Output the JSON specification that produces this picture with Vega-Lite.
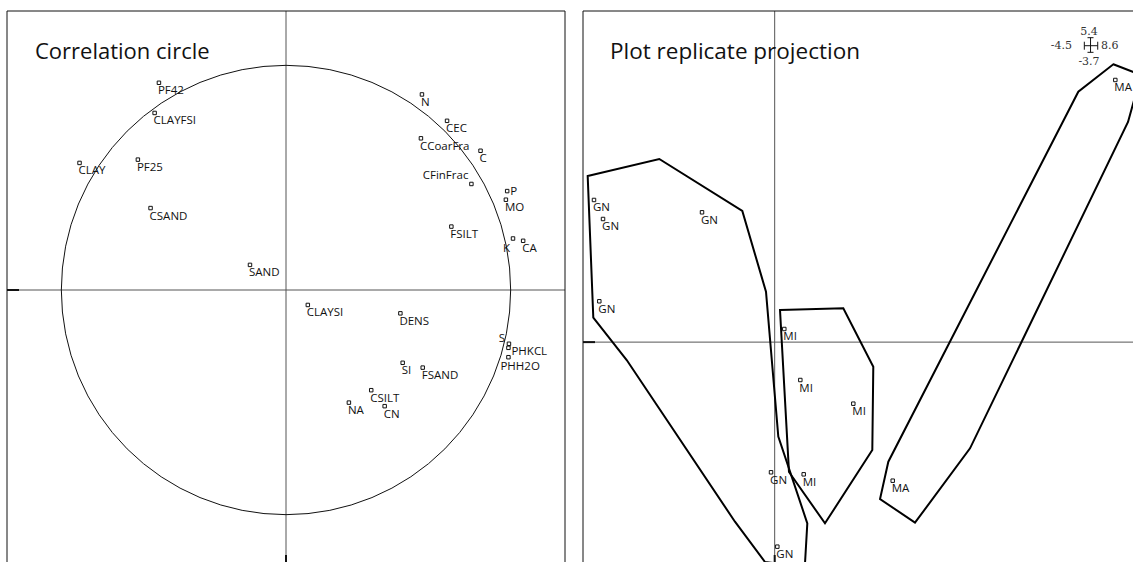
{
  "$schema": "https://vega.github.io/schema/vega-lite/v6.json",
  "padding": {"left": 6, "top": 10, "right": 0, "bottom": 0},
  "spacing": 18,
  "bounds": "flush",
  "config": {"view": {"stroke": null}, "font": "Open Sans"},
  "datasets": {
    "variables": [
      {"var": "PF42", "x": -0.501, "y": 0.817},
      {"var": "CLAYFSI", "x": -0.518, "y": 0.698},
      {"var": "CLAY", "x": -0.814, "y": 0.501},
      {"var": "PF25", "x": -0.584, "y": 0.514},
      {"var": "CSAND", "x": -0.534, "y": 0.323},
      {"var": "SAND", "x": -0.142, "y": 0.099},
      {"var": "N", "x": 0.536, "y": 0.771},
      {"var": "CEC", "x": 0.635, "y": 0.667},
      {"var": "CCoarFra", "x": 0.532, "y": 0.598},
      {"var": "C", "x": 0.767, "y": 0.549},
      {"var": "CFinFrac", "x": 0.731, "y": 0.418},
      {"var": "P", "x": 0.872, "y": 0.39},
      {"var": "MO", "x": 0.867, "y": 0.356},
      {"var": "FSILT", "x": 0.652, "y": 0.25},
      {"var": "K", "x": 0.895, "y": 0.203},
      {"var": "CA", "x": 0.935, "y": 0.194},
      {"var": "CLAYSI", "x": 0.086, "y": -0.059},
      {"var": "DENS", "x": 0.451, "y": -0.092},
      {"var": "S", "x": 0.879, "y": -0.212},
      {"var": "PHKCL", "x": 0.877, "y": -0.228},
      {"var": "PHH2O", "x": 0.877, "y": -0.265},
      {"var": "SI", "x": 0.46, "y": -0.287},
      {"var": "FSAND", "x": 0.539, "y": -0.306},
      {"var": "CSILT", "x": 0.336, "y": -0.395},
      {"var": "NA", "x": 0.248, "y": -0.444},
      {"var": "CN", "x": 0.389, "y": -0.458}
    ],
    "plots": [
      {"plot": "GN", "x": -4.242, "y": 2.318},
      {"plot": "GN", "x": -4.03, "y": 2.008},
      {"plot": "GN", "x": -1.706, "y": 2.117},
      {"plot": "GN", "x": -4.117, "y": 0.666},
      {"plot": "GN", "x": -0.086, "y": -2.123},
      {"plot": "GN", "x": 0.062, "y": -3.336},
      {"plot": "MI", "x": 0.226, "y": 0.214},
      {"plot": "MI", "x": 0.602, "y": -0.618},
      {"plot": "MI", "x": 1.846, "y": -1.004},
      {"plot": "MI", "x": 0.681, "y": -2.156},
      {"plot": "MA", "x": 2.771, "y": -2.26},
      {"plot": "MA", "x": 7.997, "y": 4.275}
    ],
    "hulls": [
      {"plot": "GN", "i": 1, "x": -4.39, "y": 2.709},
      {"plot": "GN", "i": 2, "x": -2.709, "y": 2.986},
      {"plot": "GN", "i": 3, "x": -0.76, "y": 2.138},
      {"plot": "GN", "i": 4, "x": -0.204, "y": 0.822},
      {"plot": "GN", "i": 5, "x": 0.085, "y": -1.542},
      {"plot": "GN", "i": 6, "x": 0.766, "y": -2.955},
      {"plot": "GN", "i": 7, "x": 0.707, "y": -3.667},
      {"plot": "GN", "i": 8, "x": -0.227, "y": -3.586},
      {"plot": "GN", "i": 9, "x": -0.932, "y": -2.929},
      {"plot": "GN", "i": 10, "x": -3.474, "y": -0.292},
      {"plot": "GN", "i": 11, "x": -4.258, "y": 0.398},
      {"plot": "MI", "i": 1, "x": 0.125, "y": 0.524},
      {"plot": "MI", "i": 2, "x": 1.611, "y": 0.552},
      {"plot": "MI", "i": 3, "x": 2.315, "y": -0.401},
      {"plot": "MI", "i": 4, "x": 2.292, "y": -1.759},
      {"plot": "MI", "i": 5, "x": 1.181, "y": -2.955},
      {"plot": "MI", "i": 6, "x": 0.336, "y": -2.118},
      {"plot": "MA", "i": 1, "x": 7.95, "y": 4.531},
      {"plot": "MA", "i": 2, "x": 8.6, "y": 4.356},
      {"plot": "MA", "i": 3, "x": 8.295, "y": 3.59},
      {"plot": "MA", "i": 4, "x": 4.586, "y": -1.732},
      {"plot": "MA", "i": 5, "x": 3.294, "y": -2.945},
      {"plot": "MA", "i": 6, "x": 2.473, "y": -2.558},
      {"plot": "MA", "i": 7, "x": 2.668, "y": -1.95},
      {"plot": "MA", "i": 8, "x": 7.128, "y": 4.084}
    ],
    "frameL": [
      {"x": -1.1, "x2": 1.1, "y": 1.1, "y2": 1.1},
      {"x": -1.1, "x2": -1.1, "y": -1.0724, "y2": 1.1},
      {"x": 1.1, "x2": 1.1, "y": -1.0724, "y2": 1.1}
    ],
    "axesL": [
      {"x": -1.1, "x2": 1.1, "y": 0, "y2": 0},
      {"x": 0, "x2": 0, "y": -1.0724, "y2": 1.1}
    ],
    "ticksL": [
      {"x": -1.1, "x2": -1.0527, "y": 0, "y2": 0},
      {"x": 0, "x2": 0, "y": -1.0724, "y2": -1.045}
    ],
    "frameR": [
      {"x": -4.5, "x2": 8.412, "y": 5.4, "y2": 5.4},
      {"x": -4.5, "x2": -4.5, "y": -3.586, "y2": 5.4}
    ],
    "axesR": [
      {"x": -4.5, "x2": 8.412, "y": 0, "y2": 0},
      {"x": 0, "x2": 0, "y": -3.586, "y2": 5.4}
    ],
    "ticksR": [
      {"x": -4.5, "x2": -4.218, "y": 0, "y2": 0},
      {"x": 0, "x2": 0, "y": -3.586, "y2": -3.472}
    ],
    "rangeCross": [
      {"x": 7.269, "x2": 7.584, "y": 4.834, "y2": 4.834},
      {"x": 7.415, "x2": 7.415, "y": 4.726, "y2": 4.965},
      {"x": 7.269, "x2": 7.269, "y": 4.769, "y2": 4.899},
      {"x": 7.584, "x2": 7.584, "y": 4.769, "y2": 4.899},
      {"x": 7.344, "x2": 7.485, "y": 4.965, "y2": 4.965},
      {"x": 7.344, "x2": 7.485, "y": 4.726, "y2": 4.726}
    ],
    "rangeText": [
      {"side": "top", "lab": "5.4", "x": 7.379, "y": 5.009},
      {"side": "left", "lab": "-4.5", "x": 6.98, "y": 4.775},
      {"side": "right", "lab": "8.6", "x": 7.661, "y": 4.775},
      {"side": "bottom", "lab": "-3.7", "x": 7.379, "y": 4.514}
    ]
  },
  "hconcat": [
    {
      "width": 558,
      "height": 551,
      "encoding": {
        "x": {"field": "x", "type": "quantitative", "axis": null, "scale": {"domain": [-1.1, 1.1], "nice": false, "zero": false}},
        "y": {"field": "y", "type": "quantitative", "axis": null, "scale": {"domain": [-1.0724, 1.1], "nice": false, "zero": false}}
      },
      "layer": [
        {
          "data": {"name": "axesL"},
          "mark": {"type": "rule", "color": "#555", "strokeWidth": 1, "clip": true},
          "encoding": {"x2": {"field": "x2"}, "y2": {"field": "y2"}}
        },
        {
          "data": {"name": "ticksL"},
          "mark": {"type": "rule", "color": "#111", "strokeWidth": 2, "clip": true},
          "encoding": {"x2": {"field": "x2"}, "y2": {"field": "y2"}}
        },
        {
          "data": {"name": "frameL"},
          "mark": {"type": "rule", "color": "#111", "strokeWidth": 1},
          "encoding": {"x2": {"field": "x2"}, "y2": {"field": "y2"}}
        },
        {
          "data": {"values": [{"x": 0, "y": 0}]},
          "mark": {"type": "point", "shape": "circle", "size": 201900, "filled": false, "stroke": "#111", "strokeWidth": 1, "opacity": 1}
        },
        {
          "data": {"values": [{"title": "Correlation circle", "x": -0.9896, "y": 0.9107}]},
          "mark": {"type": "text", "align": "left", "baseline": "alphabetic", "fontSize": 22, "color": "#111"},
          "encoding": {"text": {"field": "title"}}
        },
        {
          "data": {"name": "variables"},
          "mark": {"type": "point", "shape": "square", "size": 12, "filled": false, "stroke": "#111", "strokeWidth": 1, "opacity": 1}
        },
        {
          "data": {"name": "variables"},
          "transform": [{"filter": {"not": {"field": "var", "oneOf": ["CFinFrac", "P", "K", "S", "PHKCL", "PHH2O"]}}}],
          "mark": {"type": "text", "align": "left", "baseline": "alphabetic", "dx": -1, "dy": 11.5, "fontSize": 11.5, "color": "#111"},
          "encoding": {"text": {"field": "var"}}
        },
        {
          "data": {"name": "variables"},
          "transform": [{"filter": {"field": "var", "oneOf": ["CFinFrac"]}}],
          "mark": {"type": "text", "align": "right", "baseline": "alphabetic", "dx": -3, "dy": -4.5, "fontSize": 11.5, "color": "#111"},
          "encoding": {"text": {"field": "var"}}
        },
        {
          "data": {"name": "variables"},
          "transform": [{"filter": {"field": "var", "oneOf": ["P"]}}],
          "mark": {"type": "text", "align": "left", "baseline": "alphabetic", "dx": 3, "dy": 4, "fontSize": 11.5, "color": "#111"},
          "encoding": {"text": {"field": "var"}}
        },
        {
          "data": {"name": "variables"},
          "transform": [{"filter": {"field": "var", "oneOf": ["K"]}}],
          "mark": {"type": "text", "align": "right", "baseline": "alphabetic", "dx": -3, "dy": 13.5, "fontSize": 11.5, "color": "#111"},
          "encoding": {"text": {"field": "var"}}
        },
        {
          "data": {"name": "variables"},
          "transform": [{"filter": {"field": "var", "oneOf": ["S"]}}],
          "mark": {"type": "text", "align": "right", "baseline": "alphabetic", "dx": -4, "dy": -2, "fontSize": 11.5, "color": "#111"},
          "encoding": {"text": {"field": "var"}}
        },
        {
          "data": {"name": "variables"},
          "transform": [{"filter": {"field": "var", "oneOf": ["PHKCL"]}}],
          "mark": {"type": "text", "align": "left", "baseline": "alphabetic", "dx": 3, "dy": 7.5, "fontSize": 11.5, "color": "#111"},
          "encoding": {"text": {"field": "var"}}
        },
        {
          "data": {"name": "variables"},
          "transform": [{"filter": {"field": "var", "oneOf": ["PHH2O"]}}],
          "mark": {"type": "text", "align": "left", "baseline": "alphabetic", "dx": -8, "dy": 13, "fontSize": 11.5, "color": "#111"},
          "encoding": {"text": {"field": "var"}}
        }
      ]
    },
    {
      "width": 550,
      "height": 551,
      "encoding": {
        "x": {"field": "x", "type": "quantitative", "axis": null, "scale": {"domain": [-4.5, 8.412], "nice": false, "zero": false}},
        "y": {"field": "y", "type": "quantitative", "axis": null, "scale": {"domain": [-3.586, 5.4], "nice": false, "zero": false}}
      },
      "layer": [
        {
          "data": {"name": "axesR"},
          "mark": {"type": "rule", "color": "#555", "strokeWidth": 1, "clip": true},
          "encoding": {"x2": {"field": "x2"}, "y2": {"field": "y2"}}
        },
        {
          "data": {"name": "ticksR"},
          "mark": {"type": "rule", "color": "#111", "strokeWidth": 2, "clip": true},
          "encoding": {"x2": {"field": "x2"}, "y2": {"field": "y2"}}
        },
        {
          "data": {"name": "frameR"},
          "mark": {"type": "rule", "color": "#111", "strokeWidth": 1},
          "encoding": {"x2": {"field": "x2"}, "y2": {"field": "y2"}}
        },
        {
          "data": {"name": "hulls"},
          "mark": {"type": "line", "interpolate": "linear-closed", "color": "#000", "strokeWidth": 2, "clip": true},
          "encoding": {"detail": {"field": "plot"}, "order": {"field": "i", "type": "quantitative"}}
        },
        {
          "data": {"values": [{"title": "Plot replicate projection", "x": -3.866, "y": 4.617}]},
          "mark": {"type": "text", "align": "left", "baseline": "alphabetic", "fontSize": 22.5, "color": "#111"},
          "encoding": {"text": {"field": "title"}}
        },
        {
          "data": {"name": "plots"},
          "mark": {"type": "point", "shape": "square", "size": 12, "filled": false, "stroke": "#111", "strokeWidth": 1, "opacity": 1, "clip": true}
        },
        {
          "data": {"name": "plots"},
          "mark": {"type": "text", "align": "left", "baseline": "alphabetic", "dx": -1, "dy": 11.5, "fontSize": 11.5, "color": "#111", "clip": true},
          "encoding": {"text": {"field": "plot"}}
        },
        {
          "data": {"name": "rangeCross"},
          "mark": {"type": "rule", "color": "#111", "strokeWidth": 1},
          "encoding": {"x2": {"field": "x2"}, "y2": {"field": "y2"}}
        },
        {
          "data": {"name": "rangeText"},
          "transform": [{"filter": {"field": "side", "oneOf": ["top", "bottom"]}}],
          "mark": {"type": "text", "align": "center", "baseline": "alphabetic", "font": "DejaVu Serif", "fontSize": 11, "color": "#333"},
          "encoding": {"text": {"field": "lab"}}
        },
        {
          "data": {"name": "rangeText"},
          "transform": [{"filter": {"field": "side", "oneOf": ["left"]}}],
          "mark": {"type": "text", "align": "right", "baseline": "alphabetic", "font": "DejaVu Serif", "fontSize": 11, "color": "#333"},
          "encoding": {"text": {"field": "lab"}}
        },
        {
          "data": {"name": "rangeText"},
          "transform": [{"filter": {"field": "side", "oneOf": ["right"]}}],
          "mark": {"type": "text", "align": "left", "baseline": "alphabetic", "font": "DejaVu Serif", "fontSize": 11, "color": "#333"},
          "encoding": {"text": {"field": "lab"}}
        }
      ]
    }
  ]
}
